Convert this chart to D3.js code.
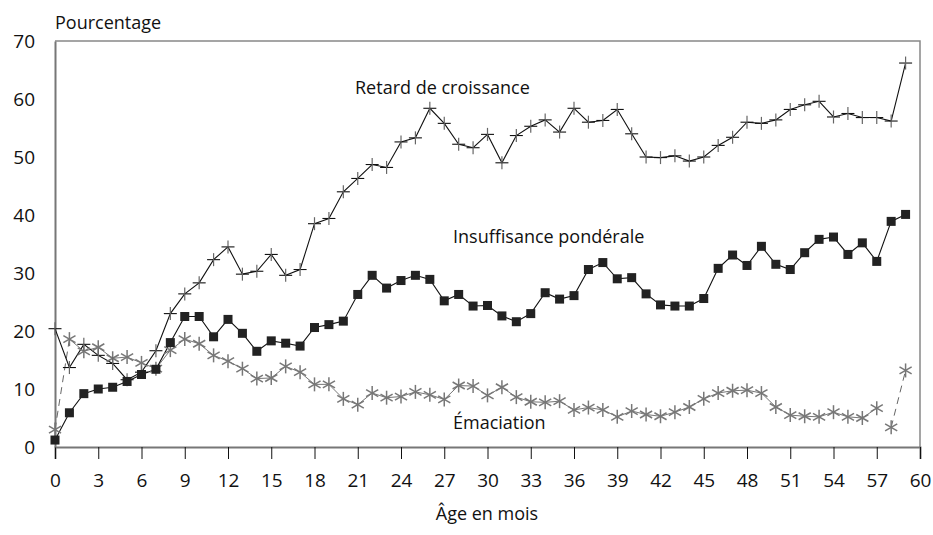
<!DOCTYPE html>
<html>
<head>
<meta charset="utf-8">
<script src="https://cdn.jsdelivr.net/npm/d3@7"></script>
<style>
  body { margin: 0; background: #fff; }
  svg text { font-family: "Open Sans", sans-serif; fill: #111; }
</style>
</head>
<body>
<svg id="chart" width="933" height="535"></svg>
<script>
// Ages in months, one reading per month
var months = d3.range(0, 60);

// Stunting
var retard = [20.4, 13.7, 17.7, 15.8, 14.4, 11.6, 12.9, 16.6, 23.0, 26.4,
              28.3, 32.3, 34.5, 29.8, 30.3, 33.2, 29.6, 30.6, 38.5, 39.4,
              44.0, 46.3, 48.7, 48.2, 52.6, 53.3, 58.4, 55.8, 52.2, 51.6,
              53.9, 49.0, 53.7, 55.3, 56.4, 54.3, 58.4, 56.0, 56.3, 58.2,
              54.0, 50.0, 49.9, 50.2, 49.3, 50.0, 52.0, 53.4, 56.0, 55.8,
              56.4, 58.2, 59.0, 59.6, 56.9, 57.5, 56.8, 56.8, 56.2, 66.2];

// Underweight
var insuffisance = [1.2, 5.9, 9.2, 10.0, 10.3, 11.3, 12.5, 13.4, 18.0, 22.5,
                    22.5, 19.0, 22.0, 19.6, 16.5, 18.3, 17.9, 17.4, 20.6, 21.1,
                    21.7, 26.3, 29.6, 27.4, 28.7, 29.6, 28.9, 25.2, 26.3, 24.3,
                    24.4, 22.6, 21.6, 23.0, 26.6, 25.5, 26.1, 30.6, 31.8, 29.0,
                    29.2, 26.4, 24.5, 24.3, 24.3, 25.6, 30.8, 33.1, 31.3, 34.6,
                    31.5, 30.6, 33.5, 35.8, 36.2, 33.2, 35.2, 32.0, 38.9, 40.1];

// Wasting
var emaciation = [3.0, 18.6, 16.5, 17.2, 15.3, 15.5, 14.5, 13.5, 16.7, 18.6,
                  17.8, 15.8, 14.8, 13.5, 11.8, 11.9, 13.9, 12.9, 10.8, 10.8,
                  8.3, 7.3, 9.3, 8.5, 8.7, 9.5, 9.0, 8.2, 10.6, 10.5,
                  8.9, 10.3, 8.6, 7.8, 7.7, 7.9, 6.4, 6.8, 6.4, 5.2,
                  6.2, 5.6, 5.3, 6.0, 6.9, 8.3, 9.3, 9.7, 9.8, 9.3,
                  6.9, 5.5, 5.3, 5.2, 6.0, 5.2, 5.0, 6.7, 3.4, 13.2];

var xTicks = d3.range(0, 61, 3);
var yTicks = d3.range(0, 71, 10);

var svg = d3.select("#chart");
var x = d3.scaleLinear().domain([0, 60]).range([55, 920]);
var y = d3.scaleLinear().domain([0, 70]).range([447, 41]);

function pts(vals) {
	return months.map(function(m, i){ return [m, vals[i]]; });
}
var line = d3.line().x(function(d){ return x(d[0]); }).y(function(d){ return y(d[1]); });

// frame (top + right)
svg.append("path")
	.attr("d", "M" + x(0) + "," + y(70) + "H" + x(60) + "V" + y(0))
	.attr("fill", "none").attr("stroke", "#888").attr("stroke-width", 1.5);

// x axis
var xa = svg.append("g").attr("transform", "translate(0," + y(0) + ")")
	.call(d3.axisBottom(x).tickValues(xTicks).tickSize(12).tickPadding(15));
xa.select(".domain").attr("stroke", "#777").attr("stroke-width", 2);
xa.selectAll(".tick line").attr("stroke", "#111");
xa.selectAll(".tick text").style("font-size", "19px").attr("fill", "#111");

// y axis
var ya = svg.append("g").attr("transform", "translate(" + x(0) + ",0)")
	.call(d3.axisLeft(y).tickValues(yTicks).tickSize(0).tickPadding(20));
ya.select(".domain").attr("stroke", "#777").attr("stroke-width", 2);
ya.selectAll(".tick text").style("font-size", "19px").attr("fill", "#111");

// emaciation: grey line, dashed at both ends, gap between 57 and 58
var ePts = pts(emaciation);
svg.append("path").attr("d", line(ePts.slice(1, 58)))
	.attr("fill", "none").attr("stroke", "#777").attr("stroke-width", 1);
[ePts.slice(0, 2), ePts.slice(58, 60)].forEach(function(seg){
	svg.append("path").attr("d", line(seg))
		.attr("fill", "none").attr("stroke", "#666").attr("stroke-width", 1)
		.attr("stroke-dasharray", "7,5");
});

// other two lines
[retard, insuffisance].forEach(function(vals){
	svg.append("path").attr("d", line(pts(vals)))
		.attr("fill", "none").attr("stroke", "#111").attr("stroke-width", 1.1);
});

// star markers
var stars = svg.append("g").selectAll("g").data(ePts).join("g")
	.attr("transform", function(d){ return "translate(" + x(d[0]) + "," + y(d[1]) + ")"; })
	.attr("stroke", "#777").attr("stroke-width", 1.5);
[90, 30, 150].forEach(function(a){
	var r = 7, t = a * Math.PI / 180;
	stars.append("line")
		.attr("x1", -r * Math.cos(t)).attr("y1", -r * Math.sin(t))
		.attr("x2", r * Math.cos(t)).attr("y2", r * Math.sin(t));
});

// plus markers
var plus = svg.append("g").selectAll("g").data(pts(retard)).join("g")
	.attr("transform", function(d){ return "translate(" + x(d[0]) + "," + y(d[1]) + ")"; });
plus.append("line").attr("x1", -6.5).attr("x2", 6.5).attr("stroke", "#111").attr("stroke-width", 1.1);
plus.append("line").attr("y1", -6.5).attr("y2", 6.5).attr("stroke", "#666").attr("stroke-width", 1.2);

// square markers
svg.append("g").selectAll("rect").data(pts(insuffisance)).join("rect")
	.attr("x", function(d){ return x(d[0]) - 4.5; })
	.attr("y", function(d){ return y(d[1]) - 4.5; })
	.attr("width", 9).attr("height", 9)
	.attr("fill", "#222");

// labels
svg.append("text").attr("x", 55).attr("y", 29).style("font-size", "18px").text("Pourcentage");
svg.append("text").attr("x", 355).attr("y", 94).style("font-size", "18px").text("Retard de croissance");
svg.append("text").attr("x", 453).attr("y", 243).style("font-size", "18px").text("Insuffisance pondérale");
svg.append("text").attr("x", 453).attr("y", 429).style("font-size", "18px").text("Émaciation");
svg.append("text").attr("x", 487).attr("y", 520).attr("text-anchor", "middle")
	.style("font-size", "18px").text("Âge en mois");
</script>
</body>
</html>
